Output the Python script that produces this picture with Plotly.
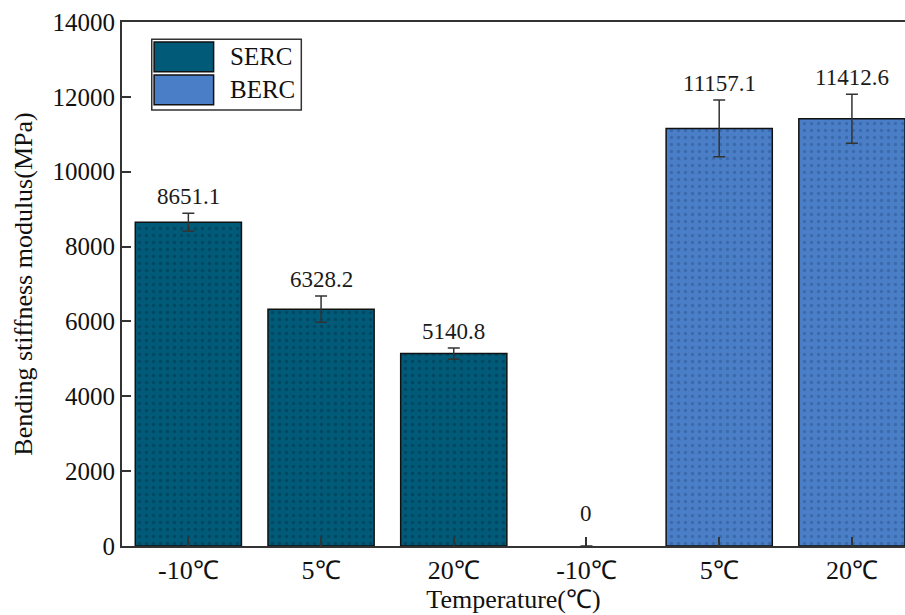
import plotly.graph_objects as go

# Bending stiffness modulus by test temperature for the two mixtures
tick_labels = ["-10℃", "5℃", "20℃", "-10℃", "5℃", "20℃"]
serc_pos = [0, 1, 2]
serc_values = [8651.1, 6328.2, 5140.8]
serc_errors = [240, 350, 150]
berc_pos = [3, 4, 5]
berc_values = [0, 11157.1, 11412.6]
berc_errors = [0, 760, 655]

FONT = "Liberation Serif, Times New Roman, serif"
SERC_COLOR = "#005a78"
BERC_COLOR = "#4a7ec6"

fig = go.Figure()


def add_series(name, pos, vals, errs, color, dot):
    fig.add_trace(go.Bar(
        name=name, x=pos, y=vals, width=0.8,
        marker=dict(color=color,
                    line=dict(color="#111", width=[1.5 if v > 0 else 0 for v in vals]),
                    pattern=dict(shape=".", fgcolor=dot, size=7, solidity=0.18)),
        error_y=dict(type="data", array=errs, visible=True,
                     color="#333", thickness=1.5, width=6),
        showlegend=False,
    ))
    for p, v, e in zip(pos, vals, errs):
        fig.add_annotation(x=p, y=v + e, text=f"{v:g}", showarrow=False,
                           yanchor="bottom", yshift=2 if e > 0 else 18,
                           font=dict(family=FONT, size=23, color="#1a1a1a"))


add_series("SERC", serc_pos, serc_values, serc_errors, SERC_COLOR, "#00344a")
add_series("BERC", berc_pos, berc_values, berc_errors, BERC_COLOR, "#2c5592")

# Legend box with large swatches
legend_items = [("SERC", SERC_COLOR), ("BERC", BERC_COLOR)]
fig.add_shape(type="rect", xref="paper", yref="paper",
              x0=0.038, x1=0.229, y0=0.832, y1=0.967,
              line=dict(color="#333", width=1.5), fillcolor="white", layer="above")
for i, (name, col) in enumerate(legend_items):
    y_top = 0.962 - i * 0.063
    fig.add_shape(type="rect", xref="paper", yref="paper",
                  x0=0.041, x1=0.117, y0=y_top - 0.057, y1=y_top,
                  line=dict(color="#111", width=1.5), fillcolor=col, layer="above")
    fig.add_annotation(xref="paper", yref="paper", x=0.136, y=y_top - 0.028,
                       text=name, showarrow=False, xanchor="left", yanchor="middle",
                       font=dict(family=FONT, size=25, color="#111"))

fig.update_layout(
    width=905, height=615,
    margin=dict(l=122, r=0, t=22, b=69),
    paper_bgcolor="white", plot_bgcolor="white",
    barmode="overlay",
    font=dict(family=FONT, size=23, color="#111"),
    xaxis=dict(
        range=[-0.5, 5.4], tickmode="array", tickvals=list(range(6)), ticktext=tick_labels,
        tickfont=dict(size=26),
        showline=True, linecolor="#333", linewidth=2, mirror=True,
        ticks="inside", ticklen=9, tickwidth=2, tickcolor="#333",
        showgrid=False, zeroline=False,
        title=dict(text="Temperature(℃)", font=dict(family=FONT, size=26), standoff=2),
    ),
    yaxis=dict(
        range=[0, 14000], tickmode="linear", dtick=2000, tick0=0, tickformat="d",
        tickfont=dict(size=25),
        showline=True, linecolor="#333", linewidth=2,
        ticks="inside", ticklen=9, tickwidth=2, tickcolor="#333",
        showgrid=False, zeroline=False,
        title=dict(text="Bending stiffness modulus(MPa)", font=dict(family=FONT, size=26), standoff=12),
    ),
)

fig.write_html("out.html")
